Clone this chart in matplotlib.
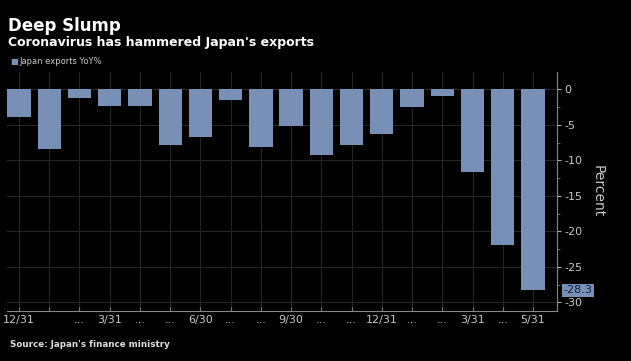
import matplotlib.pyplot as plt
import matplotlib.transforms as mtransforms

# Japan exports YoY%, monthly Dec 2018 .. May 2020
values = [-3.9, -8.4, -1.2, -2.4, -2.3, -7.8, -6.7, -1.5, -8.2,
          -5.2, -9.2, -7.9, -6.3, -2.5, -1.0, -11.7, -21.9, -28.3]
tick_labels = ["12/31", "", "...", "3/31", "...", "...", "6/30", "...", "...",
               "9/30", "...", "...", "12/31", "...", "...", "3/31", "...", "5/31"]
y_ticks = [0, -5, -10, -15, -20, -25, -30]
last_label = "-28.3"

bar_color = "#7890b6"
text_gray = "#c8c8c8"
grid_gray = "#262626"

fig = plt.figure(figsize=(6.31, 3.61), dpi=100, facecolor="black")
ax = fig.add_axes([0.011, 0.139, 0.872, 0.661], facecolor="black")

x = list(range(len(values)))
ax.bar(x, values, width=0.77, color=bar_color, zorder=3)

ax.set_xlim(-0.4, 17.8)
ax.set_ylim(-31.2, 2.4)

ax.set_xticks(x)
ax.set_xticklabels(tick_labels, fontsize=8, color=text_gray)
ax.yaxis.tick_right()
ax.set_yticks(y_ticks)
ax.set_yticklabels([str(v) for v in y_ticks], fontsize=8, color=text_gray)
ax.set_yticks([-2.5, -7.5, -12.5, -17.5, -22.5, -27.5], minor=True)

ax.tick_params(axis="x", direction="in", length=3, color="#777777", pad=3)
ax.tick_params(axis="y", which="major", direction="out", length=3, color="#aaaaaa", pad=2)
ax.tick_params(axis="y", which="minor", direction="out", length=2, color="#777777")

ax.grid(True, color=grid_gray, linewidth=0.8, zorder=0)
for side in ["top", "left"]:
    ax.spines[side].set_visible(False)
ax.spines["bottom"].set_color("#888888")
ax.spines["right"].set_color("#888888")

ax.yaxis.set_label_position("right")
ax.set_ylabel("Percent", rotation=270, color=text_gray, fontsize=10, labelpad=16)

# last value tag on the axis
trans = mtransforms.blended_transform_factory(ax.transAxes, ax.transData)
ax.text(1.012, values[-1], last_label, transform=trans, fontsize=8, color="#14203a",
        va="center", ha="left",
        bbox=dict(boxstyle="square,pad=0.12", facecolor=bar_color, edgecolor="none"))

fig.text(0.013, 0.915, "Deep Slump", fontsize=12, fontweight="bold", color="white")
fig.text(0.013, 0.872, "Coronavirus has hammered Japan's exports", fontsize=9,
         fontweight="bold", color="white")
fig.text(0.017, 0.823, "\u25a0", fontsize=6, color=bar_color)
fig.text(0.031, 0.823, "Japan exports YoY%", fontsize=6, color=text_gray)
fig.text(0.016, 0.04, "Source: Japan's finance ministry", fontsize=6.3,
         fontweight="bold", color="#dddddd")

fig.savefig("out.png", dpi=100, facecolor="black")
